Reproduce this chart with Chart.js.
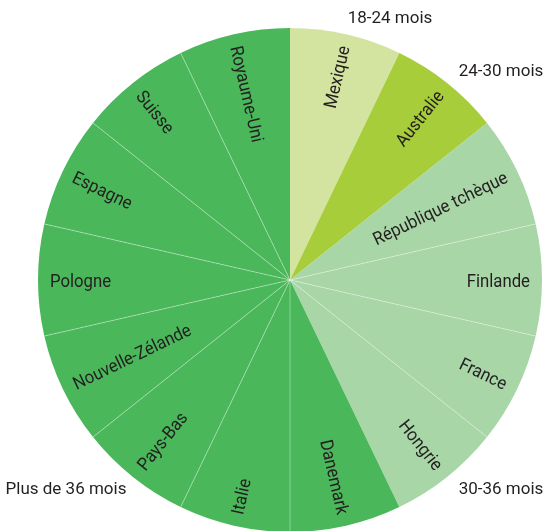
<!DOCTYPE html>
<html>
<head>
<meta charset="utf-8">
<script src="https://cdn.jsdelivr.net/npm/chart.js@4"></script>
<style>
  html, body { margin: 0; padding: 0; background: #fff; }
  #wrap { width: 546px; height: 531px; position: relative; }
</style>
</head>
<body>
<div id="wrap"><canvas id="pie"></canvas></div>
<script>
// pays, dans l'ordre horaire depuis midi
const countries = [
    'Mexique', 'Australie', 'République tchèque', 'Finlande', 'France', 'Hongrie',
    'Danemark', 'Italie', 'Pays-Bas', 'Nouvelle-Zélande', 'Pologne', 'Espagne',
    'Suisse', 'Royaume-Uni'
];
// parts égales : une tranche par pays
const shares = [1, 1, 1, 1, 1, 1, 1, 1, 1, 1, 1, 1, 1, 1];
// tranche de durée de chaque pays (index dans durations)
const durationGroup = [0, 1, 2, 2, 2, 2, 3, 3, 3, 3, 3, 3, 3, 3];
const durations = ['18-24 mois', '24-30 mois', '30-36 mois', 'Plus de 36 mois'];
const durationColors = ['#d3e4a1', '#a8cd3b', '#a8d6a6', '#4ab85a'];

const FONT = 'Roboto, "Liberation Sans", sans-serif';
const TEXT = '#231f20';

// libellés pays dans les tranches + séparateurs entre tranches de même couleur
const sliceLabels = {
    id: 'sliceLabels',
    afterDatasetsDraw(chart) {
        const ctx = chart.ctx;
        const arcs = chart.getDatasetMeta(0).data;

        ctx.save();
        ctx.strokeStyle = 'rgba(255,255,255,0.45)';
        ctx.lineWidth = 0.8;
        arcs.forEach((arc, i) => {
            const prev = (i + arcs.length - 1) % arcs.length;
            if (durationGroup[prev] !== durationGroup[i]) return;
            ctx.beginPath();
            ctx.moveTo(arc.x, arc.y);
            ctx.lineTo(arc.x + Math.cos(arc.startAngle) * arc.outerRadius,
                       arc.y + Math.sin(arc.startAngle) * arc.outerRadius);
            ctx.stroke();
        });
        ctx.restore();

        ctx.save();
        ctx.font = '18px ' + FONT;
        ctx.fillStyle = TEXT;
        ctx.textBaseline = 'alphabetic';
        const sx = 0.93;   // police un peu condensée
        arcs.forEach((arc, i) => {
            const mid = (arc.startAngle + arc.endAngle) / 2;
            const r = (arc.outerRadius - 12) / sx;
            ctx.save();
            ctx.translate(arc.x, arc.y);
            if (Math.cos(mid) >= -1e-6) {
                ctx.rotate(mid);
                ctx.scale(sx, 1);
                ctx.textAlign = 'right';
                ctx.fillText(countries[i], r, 6.5);
            } else {
                ctx.rotate(mid + Math.PI);
                ctx.scale(sx, 1);
                ctx.textAlign = 'left';
                ctx.fillText(countries[i], -r, 6.5);
            }
            ctx.restore();
        });

        // légende des durées autour du camembert
        ctx.font = '17px ' + FONT;
        ctx.textAlign = 'center';
        ctx.textBaseline = 'middle';
        ctx.fillText(durations[0], 390, 19);
        ctx.fillText(durations[1], 501, 72);
        ctx.fillText(durations[2], 501, 490);
        ctx.fillText(durations[3], 66, 490);
        ctx.restore();
    }
};

new Chart(document.getElementById('pie'), {
    type: 'pie',
    data: {
        labels: countries,
        datasets: [{
            data: shares,
            backgroundColor: durationGroup.map(g => durationColors[g]),
            borderWidth: 0
        }]
    },
    options: {
        responsive: true,
        maintainAspectRatio: false,
        animation: false,
        radius: 252,
        layout: {
            padding: { left: 38, right: 4, top: 29, bottom: 0 }
        },
        plugins: {
            legend: { display: false },
            tooltip: { enabled: false }
        }
    },
    plugins: [sliceLabels]
});
</script>
</body>
</html>
